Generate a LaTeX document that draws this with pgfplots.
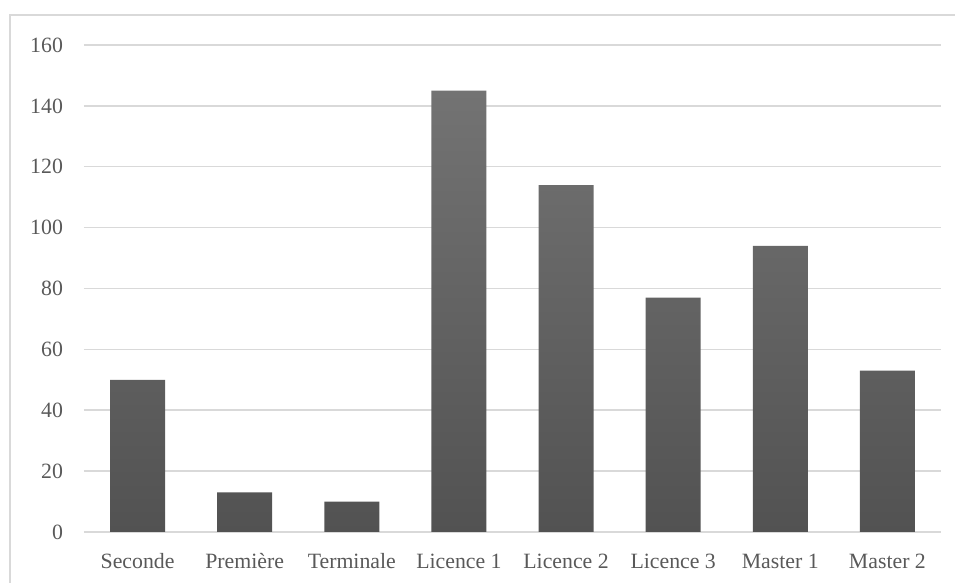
\documentclass[border=0pt]{standalone}
\usepackage{fontspec}
\setmainfont{Liberation Serif}
\usepackage{pgfplots}
\pgfplotsset{compat=1.18}
\definecolor{txt}{HTML}{595959}
\definecolor{gridc}{HTML}{D9D9D9}
\definecolor{bartop}{HTML}{737373}
\definecolor{barbot}{HTML}{525252}
\begin{document}
\begin{tikzpicture}
\useasboundingbox (-42pt,-25.5pt) rectangle (435.5pt,266pt);
\draw[draw=gridc, line width=0.75pt] (-37pt,-25.5pt) -- (-37pt,258.5pt) -- (435.5pt,258.5pt);
\begin{axis}[
  at={(0,0)}, anchor=south west,
  scale only axis, width=428.5pt, height=243.5pt,
  ymin=0, ymax=160, ytick={0,20,...,160},
  xmin=-0.5, xmax=7.5,
  xtick=data,
  xticklabels={Seconde,Première,Terminale,Licence 1,Licence 2,Licence 3,Master 1,Master 2},
  ybar, bar width=27.5pt,
  axis line style={draw=none},
  major tick length=0pt,
  xmajorgrids=false, ymajorgrids=true,
  major grid style={draw=gridc, line width=0.75pt},
  tick label style={font=\fontsize{10.9}{13}\selectfont, text=txt},
  /pgf/number format/assume math mode=true,
  yticklabel style={xshift=-7pt},
  xticklabel style={anchor=base, yshift=-18.5pt},
  clip=false,
]
\addplot[draw=none, top color=bartop, bottom color=barbot] coordinates {
 (0,50) (1,13) (2,10) (3,145) (4,114) (5,77) (6,94) (7,53)};
\end{axis}
\end{tikzpicture}
\end{document}
